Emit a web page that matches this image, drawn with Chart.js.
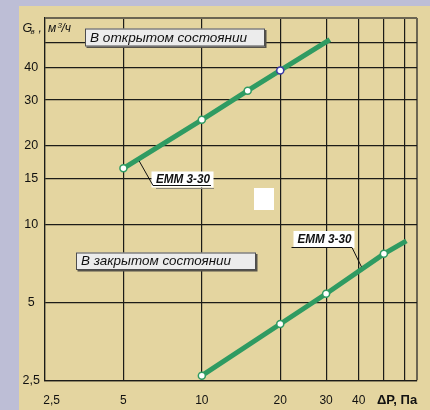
<!DOCTYPE html>
<html>
<head>
<meta charset="utf-8">
<style>
  html, body { margin: 0; padding: 0; background: #bdbed6; }
  canvas { display: block; }
</style>
<script src="https://cdn.jsdelivr.net/npm/chart.js@4/dist/chart.umd.min.js"></script>
</head>
<body>
<canvas id="chart" width="430" height="410"></canvas>
<script>
// Pressure drop ΔP, Pa (x) and air flow Gв, m³/h (y) for the ЕММ 3-30 vent
const pressureOpen = [5, 10, 15, 20, 31];
const flowOpen = [16.4, 25.2, 32.6, 39.0, 51.2];
const pressureClosed = [10, 20, 30, 50, 61];
const flowClosed = [2.62, 4.14, 5.41, 7.7, 8.64];

// Grid / tick values and their printed labels
const xTickValues = [2.5, 5, 10, 20, 30, 40, 50, 60, 67];
const xTickLabels = ['    2,5', '5', '10', '20', '30', '40', '', '', ''];
const yTickValues = [2.5, 5, 10, 15, 20, 30, 40, 50, 62];
const yTickLabels = ['2,5', '5', '10', '15', '20', '30', '40', '', ''];

const X_MIN = 2.5, X_MAX = 67, Y_MIN = 2.5, Y_MAX = 62;

const FONT = '"Liberation Sans", Arial, Helvetica, sans-serif';
const GREEN = '#2f9b62';
const GRID = '#1c1c18';
const FRAME = '#6b6552';

Chart.defaults.font.family = FONT;

const toPoints = (xs, ys) => xs.map((v, i) => ({ x: v, y: ys[i] }));

// Paper background: lavender margin with a pale-yellow sheet
const background = {
  id: 'background',
  beforeDraw(chart) {
    const { ctx, width, height } = chart;
    ctx.save();
    ctx.fillStyle = '#bdbed6';
    ctx.fillRect(0, 0, width, height);
    ctx.fillStyle = '#e4d5a0';
    ctx.fillRect(19, 6, width - 19, height - 6);
    ctx.restore();
  }
};

function fitText(ctx, text, x, y, width) {
  const w = ctx.measureText(text).width;
  ctx.save();
  ctx.translate(x, y);
  ctx.scale(width / w, 1);
  ctx.fillText(text, 0, 0);
  ctx.restore();
}

function stateBox(ctx, text, x, y, w, h, textWidth) {
  ctx.fillStyle = '#55524a';
  ctx.fillRect(x + 1.5, y + 1.5, w, h);
  ctx.fillStyle = '#ececec';
  ctx.fillRect(x, y, w, h);
  ctx.strokeStyle = '#4d4d4d';
  ctx.lineWidth = 1;
  ctx.strokeRect(x + 0.5, y + 0.5, w - 1, h - 1);
  ctx.fillStyle = '#111';
  ctx.font = 'italic 13px ' + FONT;
  ctx.textBaseline = 'middle';
  ctx.textAlign = 'left';
  fitText(ctx, text, x + 5, y + h / 2 + 0.5, textWidth);
}

function pointOnLine(chart, dsIndex, i0, xValue) {
  const pts = chart.getDatasetMeta(dsIndex).data;
  const px = chart.scales.x.getPixelForValue(xValue);
  const a = pts[i0], b = pts[i0 + 1];
  const t = (px - a.x) / (b.x - a.x);
  return { x: px, y: a.y + t * (b.y - a.y) };
}

// Axis titles, state captions and model call-outs
const annotations = {
  id: 'annotations',
  afterDatasetsDraw(chart) {
    const { ctx } = chart;
    ctx.save();

    // stray white patch on the sheet
    ctx.fillStyle = '#ffffff';
    ctx.fillRect(254, 188, 20, 22);

    stateBox(ctx, 'В открытом состоянии', 85, 28.5, 180, 18, 157);
    stateBox(ctx, 'В закрытом состоянии', 76, 252.5, 180, 17.5, 150);

    // ЕММ 3-30 call-out on the open-state line
    const pOpen = pointOnLine(chart, 0, 0, 5.75);
    ctx.fillStyle = '#ffffff';
    ctx.fillRect(151.5, 171.5, 62, 16);
    ctx.strokeStyle = '#8a8578';
    ctx.lineWidth = 1;
    ctx.beginPath();
    ctx.moveTo(156, 188.5); ctx.lineTo(214, 188.5);
    ctx.stroke();
    ctx.strokeStyle = '#111';
    ctx.beginPath();
    ctx.moveTo(pOpen.x, pOpen.y + 2.5);
    ctx.lineTo(153, 185.5);
    ctx.lineTo(211, 185.5);
    ctx.stroke();
    ctx.fillStyle = '#111';
    ctx.font = 'italic bold 12px ' + FONT;
    ctx.textBaseline = 'middle';
    ctx.textAlign = 'left';
    fitText(ctx, 'ЕММ 3-30', 156, 179.5, 54);

    // ЕММ 3-30 call-out on the closed-state line
    const pClosed = pointOnLine(chart, 1, 2, 41);
    ctx.fillStyle = '#ffffff';
    ctx.fillRect(293.5, 231, 61, 17);
    ctx.strokeStyle = '#111';
    ctx.beginPath();
    ctx.moveTo(291.5, 247.5);
    ctx.lineTo(352, 247.5);
    ctx.lineTo(pClosed.x, pClosed.y - 2.5);
    ctx.stroke();
    ctx.fillStyle = '#111';
    fitText(ctx, 'ЕММ 3-30', 297.5, 240, 54);

    // y-axis title: Gв , м³/ч
    ctx.fillStyle = '#111';
    ctx.textBaseline = 'alphabetic';
    ctx.font = 'italic 12.5px ' + FONT;
    ctx.fillText('G', 22.5, 31.7);
    ctx.font = 'italic 8px ' + FONT;
    ctx.fillText('в', 30.5, 33.5);
    ctx.font = 'italic 12px ' + FONT;
    ctx.fillText(',', 38.5, 31.7);
    ctx.fillText('м', 48, 31.7);
    ctx.font = 'italic 8px ' + FONT;
    ctx.fillText('3', 57.5, 27.5);
    ctx.font = 'italic 12px ' + FONT;
    ctx.fillText('/ч', 61.5, 31.7);

    // x-axis title: ΔP, Па
    ctx.font = 'bold 13px ' + FONT;
    ctx.textBaseline = 'middle';
    ctx.fillText('ΔP, Па', 377, 400.5);

    ctx.restore();
  }
};

const isFrame = (ctx, max) => ctx.tick && ctx.tick.value === max;

new Chart(document.getElementById('chart'), {
  type: 'scatter',
  data: {
    datasets: [
      {
        label: 'В открытом состоянии',
        data: toPoints(pressureOpen, flowOpen),
        showLine: true,
        borderColor: GREEN,
        borderWidth: 5,
        borderCapStyle: 'butt',
        pointRadius: [3.5, 3.5, 3.5, 3.5, 0],
        pointBackgroundColor: '#ffffff',
        pointBorderColor: [GREEN, GREEN, GREEN, '#3a3aa8', GREEN],
        pointBorderWidth: 1.5
      },
      {
        label: 'В закрытом состоянии',
        data: toPoints(pressureClosed, flowClosed),
        showLine: true,
        borderColor: GREEN,
        borderWidth: 5,
        borderCapStyle: 'butt',
        pointRadius: [3.5, 3.5, 3.5, 3.5, 0],
        pointBackgroundColor: '#ffffff',
        pointBorderColor: GREEN,
        pointBorderWidth: 1.5
      }
    ]
  },
  options: {
    responsive: false,
    devicePixelRatio: 1,
    animation: false,
    events: [],
    layout: { padding: { left: 0, top: 18, right: 13, bottom: 0 } },
    plugins: {
      legend: { display: false },
      tooltip: { enabled: false },
      title: { display: false }
    },
    scales: {
      x: {
        type: 'logarithmic',
        min: X_MIN,
        max: X_MAX,
        afterBuildTicks: (scale) => { scale.ticks = xTickValues.map(v => ({ value: v })); },
        afterFit: (scale) => { scale.height = 29; },
        ticks: {
          autoSkip: false,
          maxRotation: 0,
          padding: 12,
          color: '#111',
          font: { size: 12 },
          callback: (value) => xTickLabels[xTickValues.indexOf(value)] ?? ''
        },
        grid: {
          drawTicks: false,
          color: (ctx) => isFrame(ctx, X_MAX) ? FRAME : GRID,
          lineWidth: (ctx) => isFrame(ctx, X_MAX) ? 2 : 1.2
        },
        border: { color: GRID, width: 1.2 }
      },
      y: {
        type: 'logarithmic',
        min: Y_MIN,
        max: Y_MAX,
        afterBuildTicks: (scale) => { scale.ticks = yTickValues.map(v => ({ value: v })); },
        afterFit: (scale) => { scale.width = 45; },
        ticks: {
          autoSkip: false,
          padding: 5,
          crossAlign: 'center',
          color: '#111',
          font: { size: 12.5 },
          callback: (value) => yTickLabels[yTickValues.indexOf(value)] ?? ''
        },
        grid: {
          drawTicks: false,
          color: (ctx) => isFrame(ctx, Y_MAX) ? FRAME : GRID,
          lineWidth: (ctx) => isFrame(ctx, Y_MAX) ? 2 : 1.2
        },
        border: { color: GRID, width: 1.2 }
      }
    }
  },
  plugins: [background, annotations]
});
</script>
</body>
</html>
